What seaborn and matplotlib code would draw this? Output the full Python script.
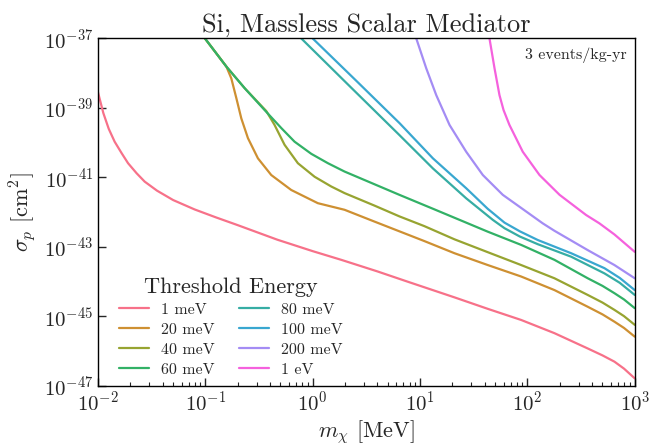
import numpy as np
import pandas as pd
import matplotlib
matplotlib.use("Agg")
import matplotlib.pyplot as plt
from matplotlib.lines import Line2D
from matplotlib.ticker import LogLocator, NullLocator
import seaborn as sns

# Reach curves: log10(m_chi / MeV) and log10(sigma_p / cm^2) for each threshold energy
thresholds = ["1 meV", "20 meV", "40 meV", "60 meV", "80 meV", "100 meV", "200 meV", "1 eV"]

logm_1meV = [-2.0, -1.95, -1.9, -1.845, -1.78, -1.72, -1.64, -1.565, -1.45, -1.3, -1.1, -0.9,
             -0.7, -0.33, 0.0, 0.266, 0.6, 0.886, 1.321, 1.631, 1.942, 2.252, 2.562, 2.7, 2.811, 2.9, 3.0]
logs_1meV = [-38.55, -39.15, -39.6, -39.97, -40.3, -40.59, -40.88, -41.12, -41.38, -41.65, -41.92, -42.15,
             -42.37, -42.79, -43.12, -43.37, -43.7, -44.0, -44.45, -44.78, -45.10, -45.48, -45.92,
             -46.12, -46.30, -46.50, -46.78]

logm_20meV = [-1.006, -0.9, -0.804, -0.758, -0.711, -0.665, -0.603, -0.51, -0.386, -0.2, 0.048,
              0.297, 0.576, 1.04, 1.321, 1.631, 1.942, 2.252, 2.562, 2.7, 2.811, 2.9, 3.0]
logs_20meV = [-36.99, -37.42, -37.81, -38.15, -38.72, -39.30, -39.87, -40.45, -40.93, -41.36, -41.74,
              -41.93, -42.27, -42.83, -43.18, -43.52, -43.85, -44.24, -44.72, -44.94, -45.15, -45.33, -45.58]

logm_40meV = [-1.006, -0.9, -0.804, -0.634, -0.432, -0.355, -0.262, -0.138, 0.018, 0.173, 0.297,
              0.576, 0.808, 1.04, 1.321, 1.631, 1.942, 2.252, 2.562, 2.7, 2.811, 2.9, 3.0]
logs_40meV = [-36.99, -37.42, -37.81, -38.43, -39.09, -39.49, -40.06, -40.59, -40.98, -41.26, -41.45,
              -41.81, -42.12, -42.4, -42.78, -43.15, -43.52, -43.9, -44.38, -44.6, -44.81, -44.99, -45.24]

logm_60meV = [-1.006, -0.9, -0.804, -0.634, -0.448, -0.292, -0.169, -0.013, 0.142, 0.297, 0.808,
              1.12, 1.43, 1.631, 1.942, 2.252, 2.562, 2.7, 2.811, 2.9, 3.0]
logs_60meV = [-36.99, -37.42, -37.81, -38.43, -39.06, -39.58, -39.97, -40.32, -40.59, -40.83, -41.50,
              -41.9, -42.3, -42.56, -42.94, -43.37, -43.90, -44.12, -44.33, -44.51, -44.76]

logm_80meV = [-0.106, 0.35, 0.808, 1.12, 1.43, 1.678, 1.787, 1.93, 2.097, 2.408, 2.718, 2.86, 3.0]
logs_80meV = [-37.0, -38.39, -39.78, -40.74, -41.6, -42.22, -42.46, -42.70, -42.92, -43.28, -43.76,
              -44.03, -44.38]

logm_100meV = [0.0, 0.4, 0.81, 1.12, 1.43, 1.63, 1.787, 1.93, 2.097, 2.408, 2.718, 2.86, 3.0]
logs_100meV = [-37.0, -38.2, -39.44, -40.45, -41.31, -41.9, -42.3, -42.55, -42.80, -43.18, -43.61,
               -43.89, -44.24]

logm_200meV = [0.965, 1.058, 1.151, 1.275, 1.43, 1.585, 1.771, 1.989, 2.143, 2.25, 2.562, 2.811, 3.0]
logs_200meV = [-37.0, -37.86, -38.63, -39.49, -40.26, -40.93, -41.50, -41.98, -42.32, -42.53, -43.09,
               -43.52, -43.9]

logm_1eV = [1.647, 1.694, 1.74, 1.778, 1.833, 1.957, 2.113, 2.3, 2.547, 2.671, 2.811, 3.0]
logs_1eV = [-37.0, -37.86, -38.63, -39.06, -39.49, -40.26, -40.93, -41.50, -42.08, -42.32, -42.64, -43.14]

curves = [
    (logm_1meV, logs_1meV), (logm_20meV, logs_20meV), (logm_40meV, logs_40meV),
    (logm_60meV, logs_60meV), (logm_80meV, logs_80meV), (logm_100meV, logs_100meV),
    (logm_200meV, logs_200meV), (logm_1eV, logs_1eV),
]

frames = []
for label, (lm, ls) in zip(thresholds, curves):
    frames.append(pd.DataFrame({
        "m": 10.0 ** np.asarray(lm),
        "sigma": 10.0 ** np.asarray(ls),
        "Threshold": label,
    }))
df = pd.concat(frames, ignore_index=True)

sns.set_style("ticks")
plt.rcParams["font.family"] = ["cmr10", "DejaVu Serif"]
plt.rcParams["mathtext.fontset"] = "cm"
plt.rcParams["axes.formatter.use_mathtext"] = True

fig = plt.figure(figsize=(6.49, 4.45), dpi=100)
ax = fig.add_axes([0.151, 0.1326, 0.827, 0.781])

palette = sns.color_palette("husl", len(thresholds))
sns.lineplot(data=df, x="m", y="sigma", hue="Threshold", hue_order=thresholds,
             palette=palette, estimator=None, sort=False, lw=1.6, ax=ax,
             legend=False)
for line in ax.get_lines():
    line.set_solid_joinstyle("round")

ax.set_xscale("log")
ax.set_yscale("log")
ax.set_xlim(1e-2, 1e3)
ax.set_ylim(1e-47, 1e-37)
ax.set_yticks([1e-47, 1e-45, 1e-43, 1e-41, 1e-39, 1e-37])
ax.yaxis.set_minor_locator(NullLocator())
ax.xaxis.set_minor_locator(LogLocator(base=10, subs=np.arange(2, 10), numticks=20))

ax.tick_params(axis="both", which="major", direction="in", length=6, width=1,
               labelsize=15, top=False, right=False)
ax.tick_params(axis="x", which="minor", direction="in", length=3, width=0.8,
               top=False)
for sp in ax.spines.values():
    sp.set_visible(True)
    sp.set_color("black")
    sp.set_linewidth(1.0)

ax.set_xlabel(r"$m_\chi$ [MeV]", fontsize=16, labelpad=2)
ax.set_ylabel(r"$\sigma_p$ [cm$^2$]", fontsize=16, labelpad=4)
ax.set_title("Si, Massless Scalar Mediator", fontsize=19, pad=5)
ax.text(0.985, 0.975, "3 events/kg-yr", transform=ax.transAxes,
        ha="right", va="top", fontsize=11.5)

handles = [Line2D([], [], color=c, lw=1.6) for c in palette]
ax.legend(handles, thresholds, title="Threshold Energy", ncol=2,
          loc="lower left", bbox_to_anchor=(0.027, 0.008), borderaxespad=0,
          frameon=False, fontsize=11.5, title_fontsize=16,
          handlelength=1.9, handletextpad=0.75, columnspacing=1.5,
          labelspacing=0.36)

fig.savefig("out.png", dpi=100)
